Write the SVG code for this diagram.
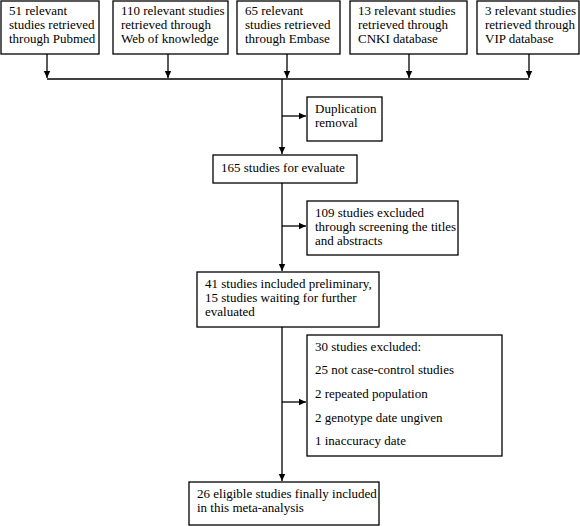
<svg xmlns="http://www.w3.org/2000/svg" width="580" height="526" viewBox="0 0 580 526">
<defs>
<marker id="ah" markerWidth="8" markerHeight="8" refX="7" refY="4" orient="auto" markerUnits="userSpaceOnUse">
<path d="M0,0.8 L7,4 L0,7.2 Z" fill="#000"/>
</marker>
<style>
.box{fill:#fff;stroke:#000;stroke-width:1.3}
.ln{fill:none;stroke:#000;stroke-width:1.3}
.t{font-family:'Liberation Serif',serif;font-size:13px;fill:#000}
</style>
</defs>
<rect width="580" height="526" fill="#fff"/>
<g id="connectors">
<path class="ln" d="M47,54 V78" marker-end="url(#ah)"/>
<path class="ln" d="M168,54 V78" marker-end="url(#ah)"/>
<path class="ln" d="M287,54 V78" marker-end="url(#ah)"/>
<path class="ln" d="M409,54 V78" marker-end="url(#ah)"/>
<path class="ln" d="M529,54 V78" marker-end="url(#ah)"/>
<path class="ln" d="M47,79 H529"/>
<path class="ln" d="M282,79 V154" marker-end="url(#ah)"/>
<path class="ln" d="M282,116 H306" marker-end="url(#ah)"/>
<path class="ln" d="M282,183 V271" marker-end="url(#ah)"/>
<path class="ln" d="M282,226 H306" marker-end="url(#ah)"/>
<path class="ln" d="M282,327 V481" marker-end="url(#ah)"/>
<path class="ln" d="M282,402 H306" marker-end="url(#ah)"/>
</g>
<g id="n1"><rect class="box" x="1" y="1" width="98" height="53"/>
<text class="t" x="9" y="15">51 relevant</text><text class="t" x="9" y="29">studies retrieved</text><text class="t" x="9" y="43">through Pubmed</text></g>
<g id="n2"><rect class="box" x="113" y="1" width="115" height="53"/>
<text class="t" x="121" y="15">110 relevant  studies</text><text class="t" x="121" y="29">retrieved  through</text><text class="t" x="121" y="43">Web of knowledge</text></g>
<g id="n3"><rect class="box" x="237" y="1" width="103" height="53"/>
<text class="t" x="245" y="15">65 relevant</text><text class="t" x="245" y="29">studies retrieved</text><text class="t" x="245" y="43">through Embase</text></g>
<g id="n4"><rect class="box" x="350" y="1" width="117" height="53"/>
<text class="t" x="358" y="15">13 relevant  studies</text><text class="t" x="358" y="29">retrieved  through</text><text class="t" x="358" y="43">CNKI database</text></g>
<g id="n5"><rect class="box" x="477" y="1" width="102" height="53"/>
<text class="t" x="485" y="15">3 relevant  studies</text><text class="t" x="485" y="29">retrieved  through</text><text class="t" x="485" y="43">VIP database</text></g>
<g id="n6"><rect class="box" x="307" y="97" width="75" height="44"/>
<text class="t" x="315" y="113">Duplication</text><text class="t" x="315" y="127">removal</text></g>
<g id="n7"><rect class="box" x="213" y="155" width="144" height="28"/>
<text class="t" x="221" y="172">165 studies for evaluate</text></g>
<g id="n8"><rect class="box" x="307" y="201" width="151" height="54"/>
<text class="t" x="315" y="217">109 studies excluded</text><text class="t" x="315" y="231">through screening the titles</text><text class="t" x="315" y="245">and abstracts</text></g>
<g id="n9"><rect class="box" x="197" y="272" width="182" height="55"/>
<text class="t" x="205" y="288">41 studies included  preliminary,</text><text class="t" x="205" y="302">15 studies waiting  for further</text><text class="t" x="205" y="316">evaluated</text></g>
<g id="n10"><rect class="box" x="307" y="335" width="195" height="121"/>
<text class="t" x="315" y="351">30 studies excluded:</text>
<text class="t" x="315" y="374">25 not case-control  studies</text>
<text class="t" x="315" y="398">2 repeated  population</text>
<text class="t" x="315" y="422">2 genotype  date ungiven</text>
<text class="t" x="315" y="445">1 inaccuracy  date</text></g>
<g id="n11"><rect class="box" x="189" y="482" width="190" height="43"/>
<text class="t" x="197" y="498">26 eligible  studies finally  included</text><text class="t" x="197" y="512">in this meta-analysis</text></g>
</svg>
